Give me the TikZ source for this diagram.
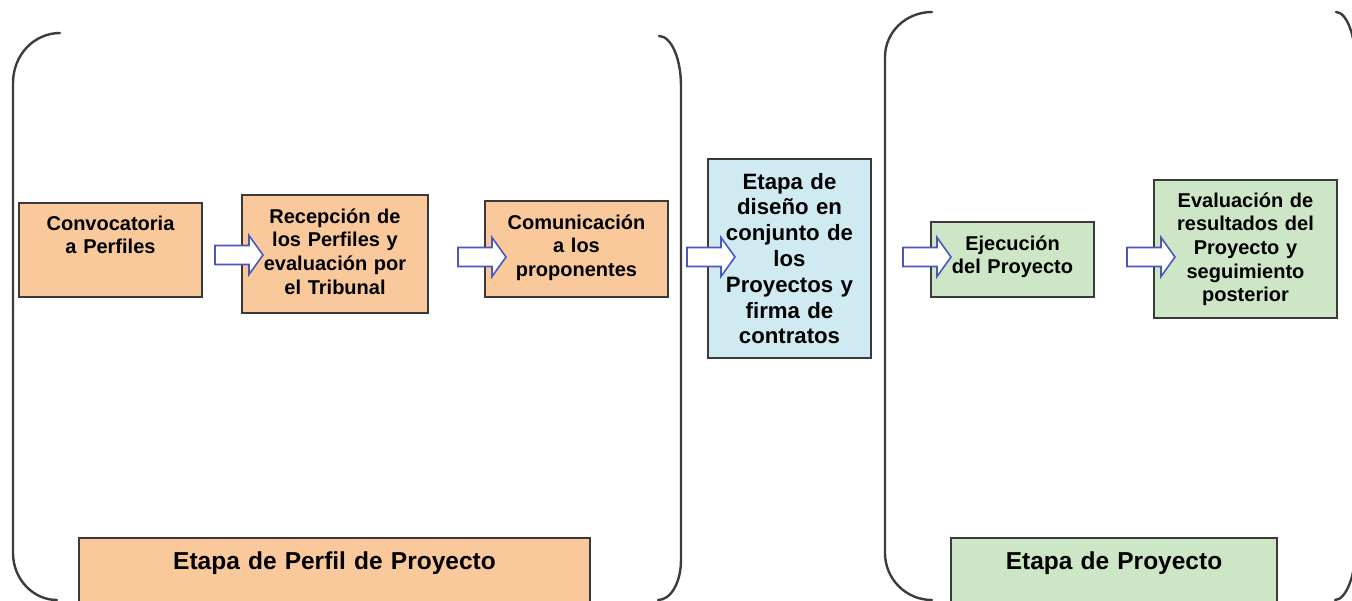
\documentclass[tikz,border=0pt]{standalone}
\usepackage{fontspec}
\setmainfont{Liberation Sans}
\definecolor{peach}{HTML}{F9C99B}
\definecolor{iceblue}{HTML}{D0EAF1}
\definecolor{mint}{HTML}{CDE6C5}
\definecolor{edgegray}{HTML}{3A3A3A}
\definecolor{framegray}{HTML}{3C3C3C}
\definecolor{arrowblue}{HTML}{4A57C0}
\begin{document}
\begin{tikzpicture}[x=1pt,y=-1pt,
  frame/.style={draw=framegray, line width=2.4pt, line cap=round},
  box/.style={draw=edgegray, line width=2pt, inner sep=0pt, align=center, anchor=north,
    font=\bfseries\fontsize{20}{23.7}\selectfont},
  bigbox/.style={box, font=\bfseries\fontsize{22.2}{25.8}\selectfont},
  labelbox/.style={box, font=\bfseries\fontsize{24.5}{29}\selectfont},
  blockarrow/.pic={\draw[arrowblue, line width=1.6pt, fill=white, line join=miter]
    (0,-9.5) -- (34,-9.5) -- (34,-19.5) -- (48,0) -- (34,19.5) -- (34,9.5) -- (0,9.5) -- cycle;}
]
\useasboundingbox (0,0) rectangle (1352,600);
\clip (0,0) rectangle (1352,600);

% frames (brackets)
\draw[frame] (60,33) .. controls (34,33) and (13,55) .. (13,83) -- (13,553)
  .. controls (13,579) and (33,600) .. (57,600);
\draw[frame] (659,36) .. controls (671,36) and (681,58) .. (681,86) -- (681,560)
  .. controls (681,582) and (671,600) .. (658,600);
\draw[frame] (932,12) .. controls (906,12) and (885,32) .. (885,57) -- (885,553)
  .. controls (885,579) and (906,600) .. (932,600);
\draw[frame] (1336,12) .. controls (1347,12) and (1356,37) .. (1356,67) -- (1356,544)
  .. controls (1356,575) and (1346,600) .. (1335,600);

% boxes
\node[box, fill=peach, text width=183pt, text height=27pt, text depth=67pt] (conv) at (110.5,202)
  {Convocatoria\\a Perfiles};
\node[box, fill=peach, text width=186pt, text height=28pt, text depth=90pt] (rec) at (335,194)
  {Recepción de\\los Perfiles y\\evaluación por\\el Tribunal};
\node[box, fill=peach, text width=183pt, text height=28pt, text depth=68pt] (com) at (576.5,200)
  {Comunicación\\a los\\proponentes};
\node[bigbox, fill=iceblue, text width=163pt, text height=30pt, text depth=169pt] (dis) at (789.5,158)
  {Etapa de\\diseño en\\conjunto de\\los\\Proyectos y\\firma de\\contratos};
\node[box, fill=mint, text width=163pt, text height=28pt, text depth=47pt] (eje) at (1012.5,221)
  {Ejecución\\del Proyecto};
\node[box, fill=mint, text width=183pt, text height=27pt, text depth=111pt] (eva) at (1245.5,179)
  {Evaluación de\\resultados del\\Proyecto y\\seguimiento\\posterior};
\node[labelbox, fill=peach, text width=511pt, text height=31pt, text depth=34pt] (perfil) at (334.5,537)
  {Etapa de Perfil de Proyecto};
\node[labelbox, fill=mint, text width=326pt, text height=31pt, text depth=34pt] (proy) at (1114,537)
  {Etapa de Proyecto};

% block arrows
\pic at (215,255) {blockarrow};
\pic at (458,257) {blockarrow};
\pic at (687,257) {blockarrow};
\pic at (903,257) {blockarrow};
\pic at (1127,257) {blockarrow};
\end{tikzpicture}
\end{document}
